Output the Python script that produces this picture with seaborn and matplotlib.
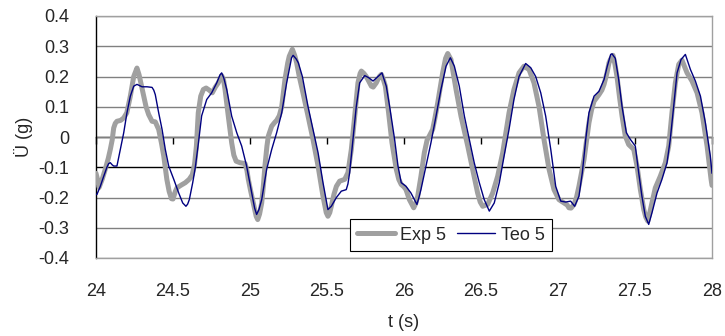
import numpy as np
import pandas as pd
import matplotlib
matplotlib.use('Agg')
import matplotlib.pyplot as plt
import seaborn as sns

t_exp = [24.000, 24.010, 24.020, 24.040, 24.060, 24.080, 24.093, 24.105, 24.115, 24.125,
         24.136, 24.160, 24.180, 24.200, 24.223, 24.245, 24.266, 24.280, 24.295, 24.310,
         24.325, 24.342, 24.364, 24.385, 24.407, 24.425, 24.440, 24.460, 24.475, 24.490,
         24.500, 24.515, 24.526, 24.550, 24.580, 24.605, 24.625, 24.640, 24.652, 24.664,
         24.680, 24.697, 24.715, 24.735, 24.755, 24.775, 24.794, 24.816, 24.828, 24.838,
         24.859, 24.881, 24.895, 24.910, 24.935, 24.968, 24.980, 24.989, 25.005, 25.021,
         25.040, 25.050, 25.062, 25.076, 25.087, 25.097, 25.110, 25.119, 25.141, 25.160,
         25.173, 25.190, 25.206, 25.227, 25.245, 25.255, 25.275, 25.290, 25.303, 25.320,
         25.344, 25.377, 25.409, 25.442, 25.474, 25.495, 25.506, 25.518, 25.528, 25.545,
         25.561, 25.582, 25.615, 25.636, 25.658, 25.680, 25.701, 25.715, 25.723, 25.740,
         25.755, 25.788, 25.800, 25.820, 25.840, 25.853, 25.866, 25.879, 25.900, 25.922,
         25.950, 25.966, 25.982, 26.000, 26.013, 26.035, 26.063, 26.076, 26.089, 26.110,
         26.132, 26.150, 26.164, 26.186, 26.200, 26.219, 26.251, 26.270, 26.284, 26.305,
         26.320, 26.338, 26.370, 26.414, 26.446, 26.478, 26.495, 26.511, 26.543, 26.576,
         26.608, 26.641, 26.660, 26.682, 26.714, 26.747, 26.779, 26.812, 26.844, 26.877,
         26.909, 26.942, 26.974, 27.006, 27.039, 27.060, 27.071, 27.085, 27.104, 27.120,
         27.136, 27.169, 27.201, 27.218, 27.234, 27.266, 27.285, 27.299, 27.318, 27.331,
         27.340, 27.357, 27.370, 27.383, 27.400, 27.416, 27.437, 27.459, 27.492, 27.503,
         27.513, 27.535, 27.557, 27.570, 27.583, 27.596, 27.610, 27.632, 27.664, 27.697,
         27.719, 27.740, 27.762, 27.784, 27.805, 27.820, 27.838, 27.870, 27.903, 27.935,
         27.968, 27.994, 28.000]
exp5 = [-0.120, -0.140, -0.167, -0.140, -0.107, -0.070, -0.041, -0.010, 0.030, 0.045,
        0.052, 0.055, 0.063, 0.080, 0.135, 0.200, 0.228, 0.205, 0.170, 0.135,
        0.100, 0.074, 0.052, 0.050, 0.025, -0.020, -0.063, -0.140, -0.180, -0.204,
        -0.205, -0.180, -0.168, -0.160, -0.151, -0.140, -0.125, -0.090, -0.030, 0.080,
        0.135, 0.157, 0.162, 0.155, 0.146, 0.165, 0.179, 0.203, 0.190, 0.157,
        0.069, -0.019, -0.060, -0.080, -0.085, -0.088, -0.110, -0.140, -0.180, -0.218,
        -0.262, -0.273, -0.255, -0.218, -0.160, -0.096, -0.030, 0.003, 0.036, 0.048,
        0.055, 0.070, 0.100, 0.190, 0.245, 0.267, 0.290, 0.270, 0.245, 0.200,
        0.146, 0.069, -0.008, -0.096, -0.196, -0.250, -0.262, -0.250, -0.229, -0.190,
        -0.163, -0.146, -0.140, -0.118, -0.041, 0.069, 0.179, 0.210, 0.218, 0.210,
        0.200, 0.168, 0.165, 0.179, 0.200, 0.207, 0.190, 0.168, 0.080, -0.019,
        -0.107, -0.140, -0.157, -0.165, -0.174, -0.207, -0.234, -0.220, -0.196, -0.130,
        -0.052, -0.010, 0.003, 0.025, 0.060, 0.113, 0.212, 0.260, 0.276, 0.256,
        0.210, 0.157, 0.069, -0.030, -0.107, -0.185, -0.215, -0.229, -0.223, -0.185,
        -0.130, -0.052, 0.010, 0.080, 0.157, 0.212, 0.234, 0.223, 0.179, 0.100,
        -0.008, -0.107, -0.174, -0.207, -0.218, -0.225, -0.234, -0.235, -0.223, -0.200,
        -0.163, -0.074, 0.047, 0.090, 0.118, 0.140, 0.155, 0.174, 0.212, 0.245,
        0.256, 0.270, 0.240, 0.200, 0.130, 0.069, 0.003, -0.025, -0.041, -0.070,
        -0.096, -0.174, -0.240, -0.265, -0.278, -0.250, -0.218, -0.168, -0.130, -0.085,
        -0.030, 0.080, 0.179, 0.240, 0.254, 0.235, 0.212, 0.185, 0.146, 0.080,
        -0.030, -0.140, -0.160]

t_teo = [24.000, 24.006, 24.028, 24.050, 24.071, 24.082, 24.093, 24.105, 24.115, 24.136,
         24.158, 24.180, 24.201, 24.223, 24.245, 24.266, 24.282, 24.299, 24.331, 24.364,
         24.375, 24.385, 24.407, 24.429, 24.450, 24.472, 24.505, 24.537, 24.563, 24.584,
         24.595, 24.606, 24.628, 24.645, 24.665, 24.686, 24.719, 24.751, 24.784, 24.805,
         24.816, 24.830, 24.849, 24.881, 24.914, 24.946, 24.978, 25.011, 25.030, 25.043,
         25.058, 25.076, 25.108, 25.141, 25.173, 25.206, 25.238, 25.270, 25.280, 25.300,
         25.314, 25.340, 25.377, 25.409, 25.442, 25.474, 25.506, 25.528, 25.561, 25.593,
         25.625, 25.636, 25.647, 25.669, 25.690, 25.712, 25.745, 25.771, 25.799, 25.831,
         25.857, 25.885, 25.907, 25.939, 25.961, 25.982, 26.013, 26.045, 26.084, 26.097,
         26.110, 26.143, 26.175, 26.208, 26.240, 26.273, 26.301, 26.327, 26.359, 26.392,
         26.424, 26.456, 26.489, 26.521, 26.554, 26.586, 26.619, 26.651, 26.682, 26.714,
         26.747, 26.790, 26.823, 26.855, 26.888, 26.920, 26.953, 26.985, 27.018, 27.050,
         27.082, 27.108, 27.136, 27.158, 27.180, 27.201, 27.234, 27.266, 27.299, 27.320,
         27.342, 27.351, 27.372, 27.394, 27.416, 27.444, 27.470, 27.502, 27.524, 27.545,
         27.567, 27.589, 27.610, 27.643, 27.675, 27.708, 27.729, 27.751, 27.773, 27.799,
         27.827, 27.860, 27.892, 27.925, 27.957, 27.989, 28.000]
teo5 = [-0.190, -0.190, -0.163, -0.130, -0.100, -0.088, -0.085, -0.092, -0.096, -0.096,
        -0.041, 0.014, 0.080, 0.135, 0.168, 0.174, 0.170, 0.166, 0.166, 0.164,
        0.155, 0.140, 0.080, 0.025, -0.041, -0.096, -0.140, -0.185, -0.218, -0.229,
        -0.222, -0.207, -0.151, -0.100, -0.020, 0.070, 0.124, 0.146, 0.179, 0.205,
        0.212, 0.195, 0.157, 0.069, 0.014, -0.030, -0.096, -0.185, -0.235, -0.256,
        -0.240, -0.207, -0.107, -0.041, 0.014, 0.080, 0.179, 0.262, 0.270, 0.258,
        0.245, 0.200, 0.100, 0.025, -0.052, -0.151, -0.240, -0.229, -0.200, -0.179,
        -0.174, -0.155, -0.118, -0.008, 0.100, 0.179, 0.203, 0.196, 0.185, 0.200,
        0.212, 0.168, 0.100, -0.008, -0.096, -0.151, -0.163, -0.185, -0.223, -0.200,
        -0.174, -0.096, -0.019, 0.069, 0.157, 0.234, 0.262, 0.234, 0.168, 0.069,
        -0.008, -0.085, -0.151, -0.207, -0.245, -0.218, -0.151, -0.060, 0.025, 0.124,
        0.200, 0.243, 0.229, 0.200, 0.146, 0.069, -0.041, -0.163, -0.212, -0.215,
        -0.212, -0.229, -0.196, -0.118, -0.008, 0.080, 0.135, 0.151, 0.190, 0.234,
        0.273, 0.275, 0.260, 0.190, 0.100, 0.014, -0.008, -0.030, -0.118, -0.196,
        -0.262, -0.289, -0.251, -0.185, -0.140, -0.085, -0.008, 0.100, 0.212, 0.256,
        0.273, 0.223, 0.185, 0.135, 0.047, -0.063, -0.120]

x_ticks = [24, 24.5, 25, 25.5, 26, 26.5, 27, 27.5, 28]
x_labels = ['24', '24.5', '25', '25.5', '26', '26.5', '27', '27.5', '28']
y_ticks = [0.4, 0.3, 0.2, 0.1, 0.0, -0.1, -0.2, -0.3, -0.4]
y_labels = ['0.4', '0.3', '0.2', '0.1', '0', '-0.1', '-0.2', '-0.3', '-0.4']

sns.set_style('white')
plt.rcParams['font.family'] = ['Liberation Sans', 'DejaVu Sans']
plt.rcParams['font.size'] = 13

fig = plt.figure(figsize=(7.25, 3.36), dpi=100)
ax = fig.add_axes([96 / 725, 1 - 258 / 336, 616 / 725, 242 / 336])

sns.lineplot(x=t_exp, y=exp5, color='#a0a0a0', lw=3.6, label='Exp 5',
             estimator=None, sort=False, ax=ax, zorder=3)
sns.lineplot(x=t_teo, y=teo5, color='#000080', lw=1.0, label='Teo 5',
             estimator=None, sort=False, ax=ax, zorder=4)

ax.set_xlim(24, 28)
ax.set_ylim(-0.4, 0.4)
ax.set_xticks(x_ticks)
ax.set_xticklabels(x_labels)
ax.set_yticks(y_ticks)
ax.set_yticklabels(y_labels)

# horizontale Gitterlinien (wie Excel)
ax.grid(axis='y', color='#808080', lw=1.0)
for line, val in zip(ax.get_ygridlines(), y_ticks):
    if abs(val + 0.1) < 1e-9:
        line.set_color('black')

for side in ['top', 'right', 'bottom']:
    ax.spines[side].set_color('#a0a0a0')
    ax.spines[side].set_linewidth(1.0)
ax.spines['left'].set_color('black')
ax.spines['left'].set_linewidth(1.0)

ax.tick_params(axis='y', direction='out', length=5, width=1, color='black', pad=14)
ax.tick_params(axis='x', length=0, pad=18)

# Kategorienachse bei y = 0 mit Teilstrichen
sec = ax.secondary_xaxis(0.5)
sec.set_alignment('bottom')
sec.set_xticks(x_ticks)
sec.tick_params(axis='x', direction='out', length=5, width=1, color='black', labelbottom=False)
sec.spines['bottom'].set_color('black')
sec.spines['bottom'].set_linewidth(1.0)

ax.set_xlabel('t (s)', labelpad=10)
ax.set_ylabel('Ü (g)', labelpad=4)

ax.legend(loc='lower center', bbox_to_anchor=(0.576, 0.03), ncol=2, frameon=True,
          fancybox=False, framealpha=1, edgecolor='black', handlelength=2.1,
          handletextpad=0.3, columnspacing=0.6, borderpad=0.4, borderaxespad=0)
ax.get_legend().get_frame().set_linewidth(0.8)

plt.savefig('out.png', dpi=100)
